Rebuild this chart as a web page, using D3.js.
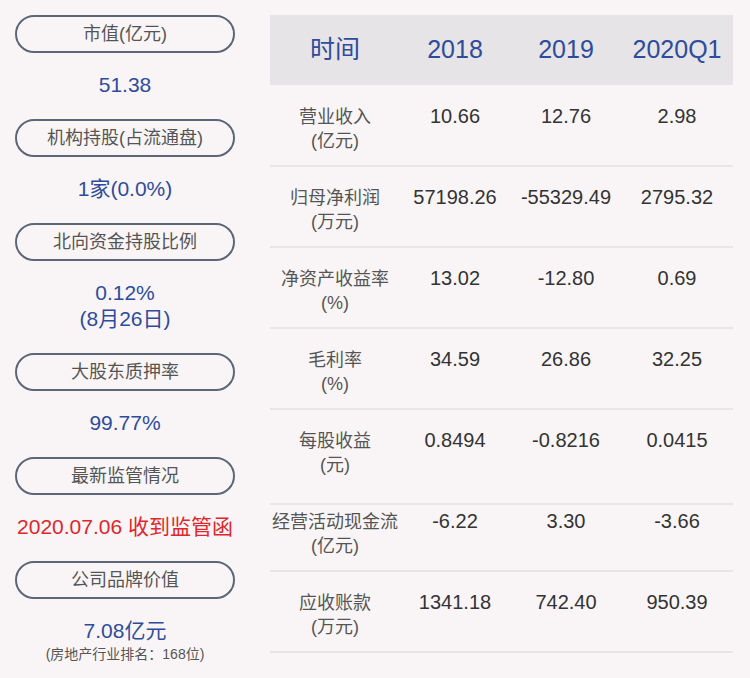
<!DOCTYPE html>
<html><head><meta charset="utf-8">
<script src="https://cdn.jsdelivr.net/npm/d3@7"></script>
<style>body{margin:0;background:#f9f5f7}text{font-family:"Liberation Sans","Noto Sans CJK SC",sans-serif}</style>
</head><body><svg id="c" width="750" height="678"></svg>
<script>
// left panel
const pillLabels = ['市值(亿元)', '机构持股(占流通盘)', '北向资金持股比例', '大股东质押率', '最新监管情况', '公司品牌价值']
const pillY = [34, 138, 242, 372, 476, 580]
const pillValues = [['51.38'], ['1家(0.0%)'], ['0.12%', '(8月26日)'], ['99.77%'], ['2020.07.06 收到监管函'], ['7.08亿元']]
const pillNote = '(房地产行业排名：168位)'
// table
const headers = ['时间', '2018', '2019', '2020Q1']
const rowLabels = [['营业收入', '(亿元)'], ['归母净利润', '(万元)'], ['净资产收益率', '(%)'], ['毛利率', '(%)'], ['每股收益', '(元)'], ['经营活动现金流', '(亿元)'], ['应收账款', '(万元)']]
const v2018 = ['10.66', '57198.26', '13.02', '34.59', '0.8494', '-6.22', '1341.18']
const v2019 = ['12.76', '-55329.49', '-12.80', '26.86', '-0.8216', '3.30', '742.40']
const v2020 = ['2.98', '2795.32', '0.69', '32.25', '0.0415', '-3.66', '950.39']
const rowBounds = [85, 166, 247, 328, 409, 504, 571, 652]

const svg = d3.select('#c')
const blue = '#2e4c9c'

pillLabels.forEach((l, i) => {
  const y = pillY[i]
  svg.append('rect').attr('x', 16).attr('y', y - 18).attr('width', 218).attr('height', 36)
    .attr('rx', 18).attr('fill', 'none').attr('stroke', '#5d6677').attr('stroke-width', 2)
  svg.append('text').attr('x', 125).attr('y', y + 6).attr('text-anchor', 'middle')
    .attr('font-size', 18).attr('fill', '#555').text(l)
  pillValues[i].forEach((v, j) => {
    svg.append('text').attr('x', 125).attr('y', y + 58 + j * 26).attr('text-anchor', 'middle')
      .attr('font-size', 21).attr('fill', i === 4 ? '#e0262a' : blue).text(v)
  })
})
svg.append('text').attr('x', 125).attr('y', 659).attr('text-anchor', 'middle')
  .attr('font-size', 14).attr('fill', '#555').text(pillNote)

const colX = d3.scaleOrdinal().domain(d3.range(4)).range([335, 455, 566, 677])
svg.append('rect').attr('x', 270).attr('y', 15).attr('width', 463).attr('height', 70).attr('fill', '#e6e4e6')
headers.forEach((h, i) => {
  svg.append('text').attr('x', colX(i)).attr('y', 58).attr('text-anchor', 'middle')
    .attr('font-size', 25).attr('fill', blue).text(h)
})
rowLabels.forEach((lab, r) => {
  const top = rowBounds[r]
  const off = r === 5 ? 24 : 38
  lab.forEach((t, j) => {
    svg.append('text').attr('x', colX(0)).attr('y', top + off + j * 24).attr('text-anchor', 'middle')
      .attr('font-size', 18).attr('fill', '#555').text(t)
  })
  ;[v2018, v2019, v2020].forEach((col, c) => {
    svg.append('text').attr('x', colX(c + 1)).attr('y', top + off).attr('text-anchor', 'middle')
      .attr('font-size', 20).attr('fill', '#333').text(col[r])
  })
  svg.append('line').attr('x1', 270).attr('x2', 733).attr('y1', rowBounds[r + 1]).attr('y2', rowBounds[r + 1])
    .attr('stroke', '#e2dfe1').attr('stroke-width', 1.5)
})
</script></body></html>
